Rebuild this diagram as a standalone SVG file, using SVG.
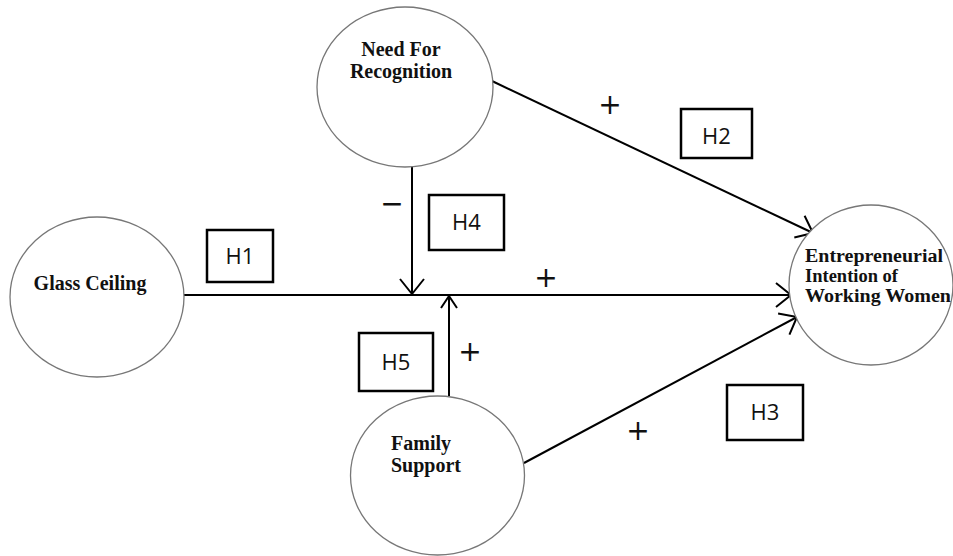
<svg xmlns="http://www.w3.org/2000/svg" width="953" height="556" viewBox="0 0 953 556">
<style>
.node ellipse{fill:#fff;stroke:#777;stroke-width:1.3}
.lbl{font-family:"Liberation Serif","Times New Roman",serif;font-weight:bold;font-size:20px;fill:#111}
.lbl.sm{font-size:18px}
.box rect{fill:#fff;stroke:#000;stroke-width:2.5}
.box text{font-family:"Open Sans","Liberation Sans",Arial,sans-serif;font-size:22px;fill:#111;text-anchor:middle}
.edge{stroke:#000;stroke-width:2;fill:none}
.sign{font-family:"DejaVu Sans",sans-serif;font-size:28px;fill:#111;text-anchor:middle}
</style>
<defs>
<marker id="arr" markerUnits="userSpaceOnUse" viewBox="-16 -14 18 28" refX="0" refY="0" markerWidth="18" markerHeight="28" orient="auto" overflow="visible">
<path d="M-15,-12 L0,0 L-15,12" fill="none" stroke="#000" stroke-width="2"/>
</marker>
<marker id="arrs" markerUnits="userSpaceOnUse" viewBox="-14 -10 16 20" refX="0" refY="0" markerWidth="16" markerHeight="20" orient="auto" overflow="visible">
<path d="M-12,-8 L0,0 L-12,8" fill="none" stroke="#000" stroke-width="2"/>
</marker>
</defs>
<rect width="953" height="556" fill="#fff"/>
<g id="connectors">
<line class="edge" x1="184" y1="295" x2="791" y2="295" marker-end="url(#arr)"/>
<line class="edge" x1="492" y1="81" x2="813" y2="233" marker-end="url(#arr)"/>
<line class="edge" x1="524" y1="463" x2="797" y2="317" marker-end="url(#arr)"/>
<line class="edge" x1="412" y1="166" x2="412" y2="294" marker-end="url(#arr)"/>
<line class="edge" x1="449" y1="396" x2="449" y2="296" marker-end="url(#arrs)"/>
</g>
<g id="nfr" class="node">
<ellipse cx="405" cy="87" rx="88" ry="80"/>
<text class="lbl" x="401" y="56" text-anchor="middle">Need For</text>
<text class="lbl" x="401" y="78" text-anchor="middle">Recognition</text>
</g>
<g id="gc" class="node">
<ellipse cx="97" cy="297" rx="87" ry="80"/>
<text class="lbl" x="90" y="290" text-anchor="middle">Glass Ceiling</text>
</g>
<g id="ei" class="node">
<ellipse cx="871" cy="285" rx="82" ry="80"/>
<text class="lbl sm" x="805" y="262" textLength="138" lengthAdjust="spacingAndGlyphs">Entrepreneurial</text>
<text class="lbl sm" x="805" y="282" textLength="93" lengthAdjust="spacingAndGlyphs">Intention of</text>
<text class="lbl sm" x="805" y="302" textLength="146" lengthAdjust="spacingAndGlyphs">Working Women</text>
</g>
<g id="fs" class="node">
<ellipse cx="437.5" cy="475.5" rx="87" ry="79.5"/>
<text class="lbl" x="391" y="450">Family</text>
<text class="lbl" x="391" y="472">Support</text>
</g>
<g id="h1" class="box"><rect x="207" y="230" width="66" height="52"/><text x="240" y="264">H1</text></g>
<g id="h2" class="box"><rect x="681" y="109" width="71" height="49"/><text x="716.5" y="144">H2</text></g>
<g id="h3" class="box"><rect x="727" y="385" width="76" height="55"/><text x="765" y="420">H3</text></g>
<g id="h4" class="box"><rect x="429" y="195" width="75" height="55"/><text x="466.5" y="230">H4</text></g>
<g id="h5" class="box"><rect x="359" y="333" width="74" height="58"/><text x="396" y="370">H5</text></g>
<g id="signs">
<text class="sign" x="610" y="114">+</text>
<text class="sign" x="546" y="287">+</text>
<text class="sign" x="470" y="361">+</text>
<text class="sign" x="638" y="440">+</text>
<text class="sign" x="392" y="213">−</text>
</g>
</svg>
